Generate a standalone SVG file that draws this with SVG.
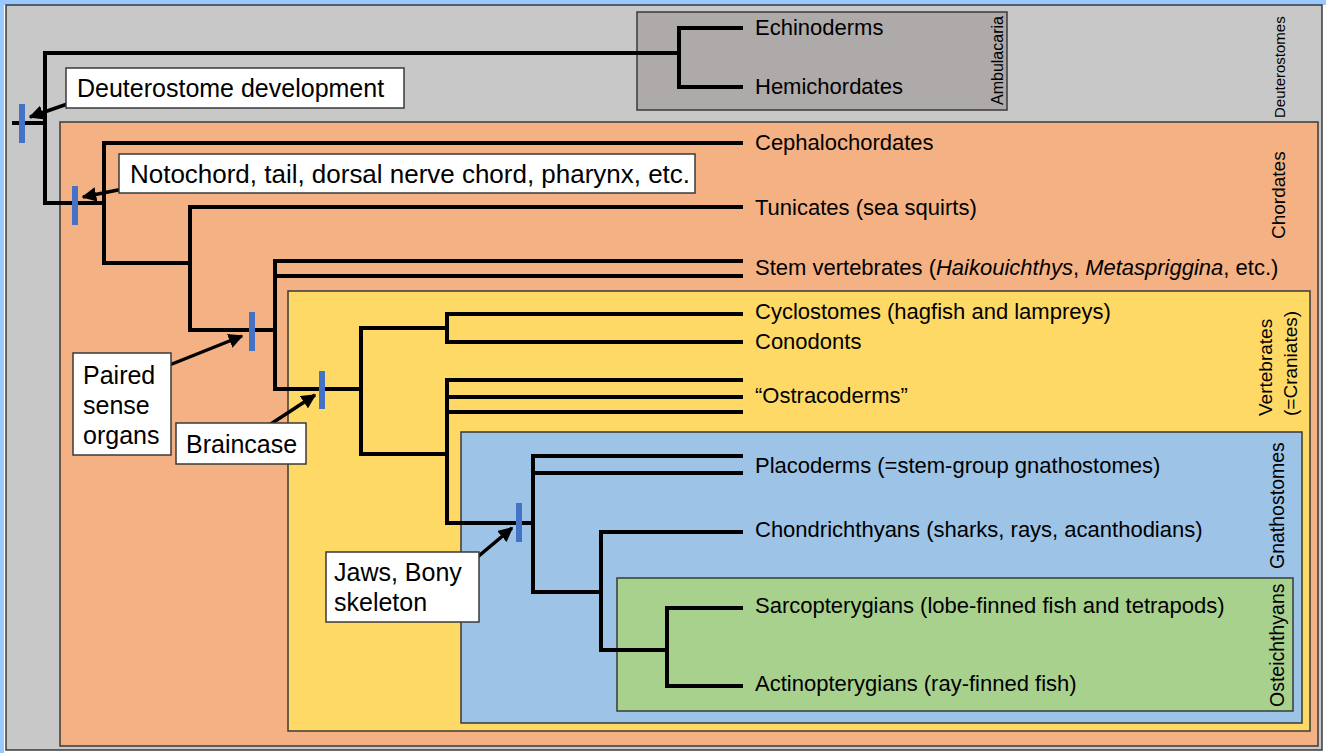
<svg xmlns="http://www.w3.org/2000/svg" width="1326" height="753" viewBox="0 0 1326 753">
<defs>
<style>
.box{stroke:#3a3a3a;stroke-width:1.5}
.lbl{fill:#fff;stroke:#3a3a3a;stroke-width:1.5}
.t{font-family:"Liberation Sans",Arial,sans-serif;font-size:22px;fill:#000}
.bt{font-family:"Liberation Sans",Arial,sans-serif;font-size:25px;fill:#000}
.vt{font-family:"Liberation Sans",Arial,sans-serif;font-size:19px;fill:#000}
.tree{fill:none;stroke:#000;stroke-width:4;stroke-linejoin:miter}
.mk{fill:#4472c4}
.arr{stroke:#000;stroke-width:3.5;fill:none}
</style>
<marker id="ah" viewBox="0 0 10 10" refX="9" refY="5" markerWidth="4.2" markerHeight="4.2" orient="auto" markerUnits="strokeWidth">
<path d="M0,0 L10,5 L0,10 Z" fill="#000"/>
</marker>
</defs>
<rect x="0" y="0" width="1326" height="753" fill="#99c9ff"/>
<rect x="4" y="5" width="1322" height="748" fill="#ffffff"/>
<g id="deuterostomes">
<rect class="box" x="6" y="5" width="1316" height="745" fill="#c8c8c8"/>
<text class="vt" transform="translate(1285,118) rotate(-90)" style="font-size:15px">Deuterostomes</text>
</g>
<g id="ambulacaria">
<rect class="box" x="637" y="12" width="370" height="98" fill="#aeaaa9"/>
<text class="vt" transform="translate(1003,105) rotate(-90)" style="font-size:16px">Ambulacaria</text>
</g>
<g id="chordates">
<rect class="box" x="60" y="122" width="1258" height="624" fill="#f4b183"/>
<text class="vt" transform="translate(1285,239) rotate(-90)">Chordates</text>
</g>
<g id="vertebrates">
<rect class="box" x="288" y="291" width="1022" height="440" fill="#ffd966"/>
<text class="vt" transform="translate(1272,416) rotate(-90)">Vertebrates</text>
<text class="vt" transform="translate(1297,416) rotate(-90)">(=Craniates)</text>
</g>
<g id="gnathostomes">
<rect class="box" x="461" y="432" width="841" height="291" fill="#9dc3e6"/>
<text class="vt" transform="translate(1284,569) rotate(-90)" style="font-size:19.5px">Gnathostomes</text>
</g>
<g id="osteichthyans">
<rect class="box" x="617" y="578" width="676" height="133" fill="#a9d18e"/>
<text class="vt" transform="translate(1284,707) rotate(-90)" style="font-size:19.5px">Osteichthyans</text>
</g>
<g id="connectors">
<path class="tree" d="M12,123 H45 M679,53 H45 V203 H104 M743,28 H679 V87 H743"/>
<path class="tree" d="M743,143 H104 V263 H190 M743,207 H190 V330 H275"/>
<path class="tree" d="M743,261 H275 V389 H361 M275,276 H743"/>
<path class="tree" d="M743,314 H447 V342 H743 M447,328 H361 V454 H447"/>
<path class="tree" d="M743,380 H447 V523 H533 M447,397 H743 M447,412 H743"/>
<path class="tree" d="M743,456 H533 V592 H601 M533,473 H743"/>
<path class="tree" d="M743,532 H601 V650 H667 M743,608 H667 V686 H743"/>
<line class="arr" x1="73" y1="102" x2="30" y2="117" marker-end="url(#ah)"/>
<line class="arr" x1="128" y1="188" x2="83" y2="197" marker-end="url(#ah)"/>
<line class="arr" x1="162" y1="368" x2="242" y2="336" marker-end="url(#ah)"/>
<line class="arr" x1="257" y1="433" x2="315" y2="395" marker-end="url(#ah)"/>
<line class="arr" x1="468" y1="565" x2="512" y2="528" marker-end="url(#ah)"/>
</g>
<g id="markers">
<rect class="mk" x="19" y="104" width="6" height="39"/>
<rect class="mk" x="72" y="186" width="6" height="39"/>
<rect class="mk" x="249" y="312" width="6" height="39"/>
<rect class="mk" x="319" y="371" width="6" height="38"/>
<rect class="mk" x="516" y="503" width="6" height="39"/>
</g>
<g id="label-deuterostome-development">
<rect class="lbl" x="66" y="68" width="338" height="40"/>
<text class="bt" x="77" y="97">Deuterostome development</text>
</g>
<g id="label-notochord">
<rect class="lbl" x="119" y="154" width="576" height="39"/>
<text class="bt" x="130" y="183" textLength="560" lengthAdjust="spacingAndGlyphs">Notochord, tail, dorsal nerve chord, pharynx, etc.</text>
</g>
<g id="label-paired">
<rect class="lbl" x="73" y="353" width="98" height="102"/>
<text class="bt" x="83" y="384">Paired</text>
<text class="bt" x="83" y="414">sense</text>
<text class="bt" x="83" y="444">organs</text>
</g>
<g id="label-braincase">
<rect class="lbl" x="176" y="423" width="130" height="41"/>
<text class="bt" x="186" y="453">Braincase</text>
</g>
<g id="label-jaws">
<rect class="lbl" x="326" y="552" width="153" height="70"/>
<text class="bt" x="334" y="581">Jaws, Bony</text>
<text class="bt" x="334" y="611">skeleton</text>
</g>
<g id="taxa">
<text class="t" x="755" y="35">Echinoderms</text>
<text class="t" x="755" y="94">Hemichordates</text>
<text class="t" x="755" y="150">Cephalochordates</text>
<text class="t" x="755" y="215">Tunicates (sea squirts)</text>
<text class="t" x="755" y="275">Stem vertebrates (<tspan font-style="italic">Haikouichthys</tspan>, <tspan font-style="italic">Metaspriggina</tspan>, etc.)</text>
<text class="t" x="755" y="319">Cyclostomes (hagfish and lampreys)</text>
<text class="t" x="755" y="349">Conodonts</text>
<text class="t" x="755" y="403">“Ostracoderms”</text>
<text class="t" x="755" y="473">Placoderms (=stem-group gnathostomes)</text>
<text class="t" x="755" y="537">Chondrichthyans (sharks, rays, acanthodians)</text>
<text class="t" x="755" y="613">Sarcopterygians (lobe-finned fish and tetrapods)</text>
<text class="t" x="755" y="691">Actinopterygians (ray-finned fish)</text>
</g>
</svg>
